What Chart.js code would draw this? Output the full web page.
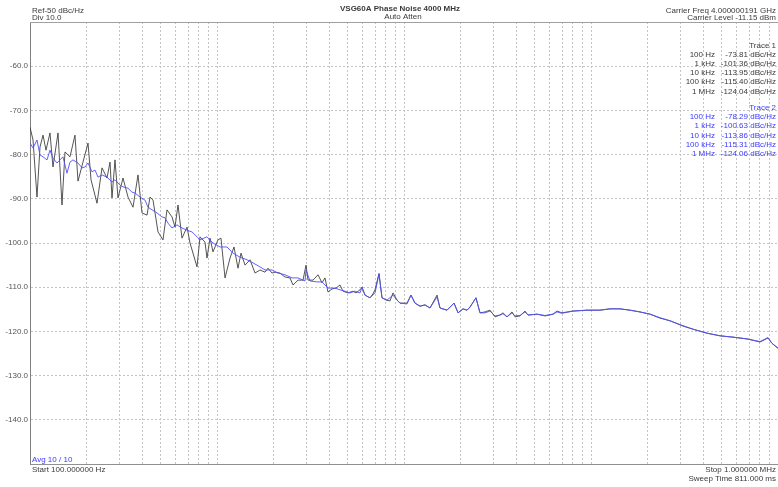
<!DOCTYPE html>
<html>
<head>
<meta charset="utf-8">
<script src="https://cdn.jsdelivr.net/npm/chart.js@4/dist/chart.umd.min.js"></script>
<style>
html,body{margin:0;padding:0;background:#fff;}
#c{display:block;}
</style>
</head>
<body>
<canvas id="c" width="778" height="487"></canvas>
<script>
// ---- data ----
const freq1 = [100,103.8,109,113.1,117.4,121.8,127.9,132.7,141.2,148.3,153.9,163.6,174,180.6,192,204.3,212,228.2,242.7,258.1,267.9,274.5,284.8,295.5,314.3,334.3,355.5,378,397.1,422.4,438.3,454.8,483.7,514.2,540.3,574.6,596.3,618.6,649.9,691.4,717.4,781.7,811.2,862.6,884.1,917.5,951.9,1012,1050,1104,1174,1233,1295,1344,1412,1502,1597,1698,1806,1874,1969,2043,2173,2310,2457,2549,2712,2884,2992,3066,3262,3469,3643,3780,3923,4121,4329,4548,4719,5017,5338,5538,5818,5963,6185,6579,6828,6998,7351,7627,8012,8417,8734,9176,9519,10375,10899,11451,12178,12951,13772,15017,15576,16981,18513,19449,20683,21727,22538,24266,25492,27111,28837,30666,32617,33843,35548,37807,39230,41713,44366,46038,51418,56754,62636,65799,69966,80121,95199,111700,126300,142900,161700,182800,206800,233900,264600,310500,351200,417100,489600,574500,682800,801200,884100,928900,1000000];
const trace1 = [-73.8,-76.7,-89.6,-78.3,-75.6,-79.0,-75.1,-82.8,-75.1,-91.4,-79.4,-80.5,-75.6,-86.0,-81.7,-77.4,-85.7,-91.0,-83.0,-85.3,-81.7,-89.8,-81.2,-89.8,-85.3,-89.6,-91.9,-84.6,-93.2,-93.7,-89.6,-90.3,-97.5,-99.3,-92.5,-94.1,-96.4,-91.4,-98.9,-96.4,-100.0,-105.4,-98.6,-99.8,-103.4,-98.9,-102.0,-99.3,-98.9,-107.9,-103.4,-100.9,-105.7,-102.3,-105.0,-103.8,-106.8,-106.1,-106.6,-105.7,-106.8,-106.6,-106.8,-107.7,-107.9,-109.5,-108.4,-108.4,-105.0,-108.4,-108.4,-107.2,-109.0,-107.9,-111.1,-110.4,-110.2,-109.5,-110.9,-111.3,-110.9,-111.3,-110.6,-110.0,-111.8,-112.4,-111.5,-110.6,-106.9,-112.4,-112.9,-113.1,-111.3,-112.9,-113.6,-113.6,-111.8,-113.6,-114.3,-114.0,-114.7,-111.8,-114.7,-115.2,-113.6,-115.8,-114.9,-115.2,-114.5,-112.4,-115.8,-115.6,-115.2,-116.7,-116.3,-115.8,-116.7,-115.6,-116.7,-116.5,-115.4,-116.3,-116.1,-116.5,-116.1,-115.4,-115.8,-115.4,-115.2,-115.2,-114.9,-114.9,-115.2,-115.6,-116.1,-117.0,-117.6,-118.8,-119.5,-120.4,-121.0,-121.3,-121.7,-122.4,-121.5,-122.7,-123.8];

const freq2 = [100,103.8,109,113.1,117.4,123.3,127.9,132.7,139.5,144.7,150.1,157.7,163.6,169.8,180.6,189.7,196.9,204.3,214.6,222.7,231.1,242.7,258.1,274.5,284.8,302.9,314.3,334.3,351.2,364.3,387.5,412.1,427.6,449.2,477.7,507.9,527.2,547.1,574.6,611.1,649.9,691.4,735.3,781.7,811.2,884.1,951.9,1038,1131,1218,1327,1447,1558,1698,1806,1969,2120,2310,2518,2712,2955,2992,3143,3426,3643,3923,4276,4548,4837,5142,5470,5818,5963,6185,6579,6998,7351,7627,8112,8734,9176,9519,10375,10899,11451,12178,12951,13772,15017,15576,16981,18513,19449,20683,21727,22538,24266,25492,27111,28837,30666,32617,33843,35548,37807,39230,41713,44366,46038,51418,56754,62636,65799,69966,80121,95199,111700,126300,142900,161700,182800,206800,233900,264600,310500,351200,417100,489600,574500,682800,801200,884100,928900,1000000];
const trace2 = [-77.4,-78.5,-76.7,-80.1,-80.5,-81.2,-79.0,-80.8,-81.9,-81.2,-80.5,-84.2,-81.7,-81.2,-81.9,-83.0,-82.8,-81.9,-83.9,-83.5,-85.1,-84.6,-85.1,-86.2,-85.7,-86.9,-87.3,-87.6,-88.5,-88.7,-89.6,-90.3,-91.9,-92.5,-93.2,-94.1,-94.3,-95.5,-96.6,-95.9,-96.6,-97.1,-97.5,-98.6,-99.3,-98.6,-100.0,-100.9,-100.9,-102.3,-103.2,-103.8,-104.5,-105.4,-106.1,-106.1,-106.8,-107.2,-107.9,-107.9,-108.6,-106.1,-108.6,-108.8,-108.8,-110.2,-110.2,-110.6,-110.9,-111.3,-110.9,-111.3,-110.0,-111.8,-112.4,-111.3,-107.0,-112.4,-112.9,-111.8,-112.9,-113.6,-113.8,-111.8,-113.6,-114.3,-114.0,-114.7,-112.2,-114.7,-115.2,-113.6,-115.8,-114.9,-115.2,-114.5,-112.4,-115.8,-115.8,-115.4,-116.5,-116.3,-116.0,-116.7,-115.8,-116.5,-116.4,-115.6,-116.3,-116.1,-116.4,-116.1,-115.6,-115.9,-115.4,-115.2,-115.2,-114.9,-114.9,-115.2,-115.6,-116.1,-116.9,-117.6,-118.7,-119.5,-120.4,-121.0,-121.3,-121.7,-122.3,-121.4,-122.7,-123.8];

const xGridFreqs = [100,200,300,400,500,600,700,800,900,1000,2000,3000,4000,5000,6000,7000,8000,9000,10000,20000,30000,40000,50000,60000,70000,80000,90000,100000,200000,300000,400000,500000,600000,700000,800000,900000,1000000];
const yMin = -150, yMax = -50, yStep = 10;

const headerLeft = ['Ref-50 dBc/Hz', 'Div 10.0'];
const headerCenter = ['VSG60A Phase Noise 4000 MHz', 'Auto Atten'];
const headerRight = ['Carrier Freq 4.000000191 GHz', 'Carrier Level -11.15 dBm'];
const markerFreqs = ['100 Hz', '1 kHz', '10 kHz', '100 kHz', '1 MHz'];
const trace1Markers = ['-73.81 dBc/Hz', '-101.36 dBc/Hz', '-113.95 dBc/Hz', '-115.40 dBc/Hz', '-124.04 dBc/Hz'];
const trace2Markers = ['-78.29 dBc/Hz', '-100.63 dBc/Hz', '-113.86 dBc/Hz', '-115.31 dBc/Hz', '-124.06 dBc/Hz'];
const avgText = 'Avg 10 / 10';
const startText = 'Start 100.000000 Hz';
const stopText = 'Stop 1.000000 MHz';
const sweepText = 'Sweep Time 811.000 ms';

// ---- styles ----
const FONT = '"Liberation Sans", Arial, sans-serif';
const TXT = '#3a3a3a';
const BLUE_TXT = '#3b3bff';

const annotations = {
  id: 'annotations',
  afterDraw(chart) {
    const ctx = chart.ctx;
    const a = chart.chartArea;
    ctx.save();
    // top border
    ctx.strokeStyle = '#a0a0a0';
    ctx.lineWidth = 1;
    ctx.beginPath();
    ctx.moveTo(a.left, a.top + 0.5);
    ctx.lineTo(a.right, a.top + 0.5);
    ctx.stroke();

    ctx.font = '8px ' + FONT;
    ctx.fillStyle = TXT;
    ctx.textBaseline = 'alphabetic';
    ctx.textAlign = 'left';
    ctx.fillText(headerLeft[0], 32, 12.5);
    ctx.fillText(headerLeft[1], 32, 20);

    ctx.textAlign = 'center';
    ctx.font = 'bold 8px ' + FONT;
    ctx.fillText(headerCenter[0], 400, 11);
    ctx.font = '8px ' + FONT;
    ctx.fillText(headerCenter[1], 403, 19);

    ctx.textAlign = 'right';
    ctx.fillText(headerRight[0], 776, 12.5);
    ctx.fillText(headerRight[1], 776, 20);

    // marker tables
    ctx.fillText('Trace 1', 776, 47.5);
    for (let i = 0; i < markerFreqs.length; i++) {
      const y = 56.7 + i * 9.2;
      ctx.fillText(markerFreqs[i], 715, y);
      ctx.fillText(trace1Markers[i], 776, y);
    }
    ctx.fillStyle = BLUE_TXT;
    ctx.fillText('Trace 2', 776, 110);
    for (let i = 0; i < markerFreqs.length; i++) {
      const y = 119.2 + i * 9.2;
      ctx.fillText(markerFreqs[i], 715, y);
      ctx.fillText(trace2Markers[i], 776, y);
    }

    // footer
    ctx.textAlign = 'left';
    ctx.fillText(avgText, 32, 461.5);
    ctx.fillStyle = TXT;
    ctx.fillText(startText, 32, 471.5);
    ctx.textAlign = 'right';
    ctx.fillText(stopText, 776, 471.5);
    ctx.fillText(sweepText, 776, 480.5);
    ctx.restore();
  }
};

new Chart(document.getElementById('c'), {
  type: 'line',
  data: {
    datasets: [
      {
        label: 'Trace 2',
        data: freq2.map((f, i) => ({x: f, y: trace2[i]})),
        borderColor: 'rgba(80,80,255,0.9)',
        borderWidth: 1,
        pointRadius: 0,
        tension: 0,
        fill: false
      },
      {
        label: 'Trace 1',
        data: freq1.map((f, i) => ({x: f, y: trace1[i]})),
        borderColor: 'rgba(55,55,55,0.85)',
        borderWidth: 1,
        pointRadius: 0,
        tension: 0,
        fill: false
      }
    ]
  },
  options: {
    responsive: false,
    animation: false,
    devicePixelRatio: 1,
    layout: {padding: {top: 22, left: 0, right: 0, bottom: 0}},
    plugins: {legend: {display: false}, tooltip: {enabled: false}, title: {display: false}},
    scales: {
      x: {
        type: 'logarithmic',
        min: 100,
        max: 1000000,
        afterBuildTicks: (s) => { s.ticks = xGridFreqs.map(v => ({value: v})); },
        afterFit: (s) => { s.height = 23; },
        ticks: {display: false},
        grid: {color: '#c4c4c4', lineWidth: 1, drawTicks: false},
        border: {color: '#909090', width: 1, dash: [2, 2]}
      },
      y: {
        min: yMin,
        max: yMax,
        afterFit: (s) => { s.width = 30; },
        ticks: {
          stepSize: yStep,
          padding: 2,
          color: '#555',
          font: {size: 8, family: FONT},
          callback: (v) => (v === yMin || v === yMax) ? '' : v.toFixed(1)
        },
        grid: {color: '#c4c4c4', lineWidth: 1, drawTicks: false},
        border: {color: '#808080', width: 1, dash: [2, 2]}
      }
    }
  },
  plugins: [annotations]
});
</script>
</body>
</html>
